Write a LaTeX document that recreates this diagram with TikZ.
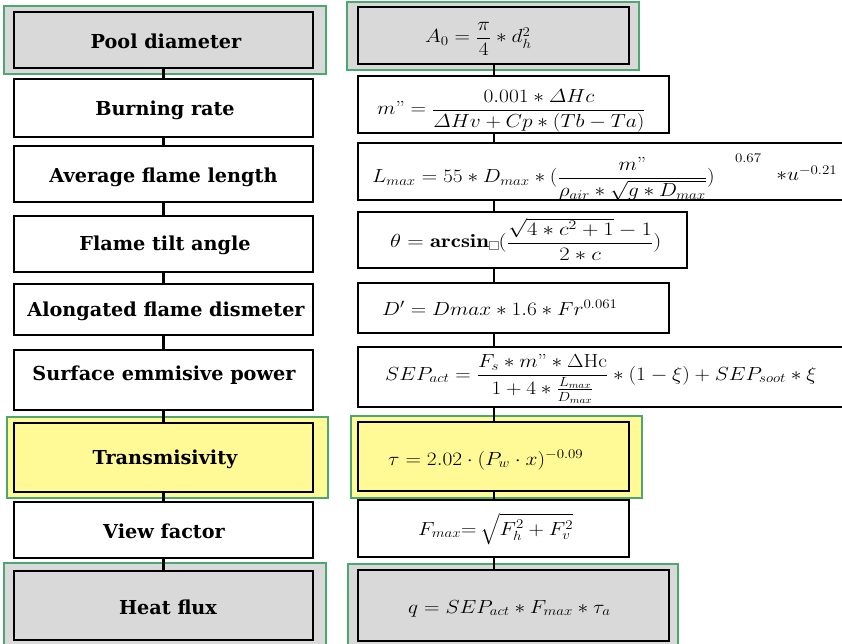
\RequirePackage{fix-cm}
\documentclass[tikz,border=0pt]{standalone}
\usepackage{amsmath}
\usepackage{graphicx}
\usepackage{fontspec}
\newfontfamily\labfont{DejaVu Serif}
\definecolor{boxgray}{RGB}{217,217,217}
\definecolor{boxyellow}{RGB}{255,250,150}
\definecolor{boxgreen}{RGB}{76,168,110}
\newcommand\dq{\mbox{\normalfont"}}
\newcommand\phbox{\mbox{\color{gray}\setlength\fboxsep{0.6bp}\setlength\fboxrule{0.5bp}\fbox{\rule{0pt}{6bp}\rule{6bp}{0pt}}}}
\newcommand\fx[1]{\scalebox{1.13}[1]{#1}}
\newcommand\fxt[1]{\scalebox{1.2}[1]{#1}}
\begin{document}
\begin{tikzpicture}[x=1bp,y=-1bp,
  box/.style={draw=black, line width=2bp, fill=white, inner sep=0pt},
  halo/.style={draw=boxgreen, line width=1.5bp},
  lab/.style={font=\labfont\bfseries\fontsize{19.3}{22}\selectfont, inner sep=0pt, anchor=base},
  frm/.style={font=\fontsize{19}{23}\selectfont, inner sep=0pt, anchor=base west},
  link/.style={line width=2.2bp}]
\useasboundingbox (0,0) rectangle (842,644);
\clip (0,0) rectangle (842,644);
% highlight frames
\path[halo, fill=boxgray] (4,6) rectangle (326,74);
\path[halo, fill=boxyellow] (7,417) rectangle (328,498);
\path[halo, fill=boxgray] (4,563) rectangle (326,660);
\path[halo, fill=boxgray] (347,2) rectangle (639,70);
\path[halo, fill=boxyellow] (351,416) rectangle (642,498);
\path[halo, fill=boxgray] (348,564) rectangle (678,660);
% left column
\node[box, fill=boxgray, minimum width=299bp, minimum height=56bp] (pool) at (163.5,40) {};
\node[box, minimum width=299bp, minimum height=58bp] (burn) at (163.5,108) {};
\node[box, minimum width=299bp, minimum height=56bp] (avg) at (163.5,174) {};
\node[box, minimum width=299bp, minimum height=56bp] (tilt) at (163.5,244) {};
\node[box, minimum width=299bp, minimum height=51bp] (along) at (163.5,309.5) {};
\node[box, minimum width=299bp, minimum height=60bp] (surf) at (163.5,380) {};
\node[box, fill=boxyellow, minimum width=299bp, minimum height=69bp] (trans) at (163.5,457.5) {};
\node[box, minimum width=299bp, minimum height=56bp] (view) at (163.5,530) {};
\node[box, fill=boxgray, minimum width=299bp, minimum height=69bp] (heat) at (163.5,605.5) {};
% right column
\node[box, fill=boxgray, minimum width=271bp, minimum height=57bp] (a0) at (493.5,35.5) {};
\node[box, minimum width=311bp, minimum height=57bp] (mb) at (513.5,104.5) {};
\node[box, minimum width=542bp, minimum height=57bp] (lmax) at (629,171.5) {};
\node[box, minimum width=329bp, minimum height=56bp] (theta) at (522.5,240) {};
\node[box, minimum width=311bp, minimum height=50bp] (dp) at (513.5,308) {};
\node[box, minimum width=542bp, minimum height=60bp] (sepf) at (629,377) {};
\node[box, fill=boxyellow, minimum width=271bp, minimum height=69bp] (tau) at (493.5,456.5) {};
\node[box, minimum width=271bp, minimum height=57bp] (fmax) at (493.5,528.5) {};
\node[box, fill=boxgray, minimum width=311bp, minimum height=71bp] (q) at (513.5,605.5) {};
% labels
\node[lab] (tpool) at (166,49) {Pool diameter};
\node[lab] (tburn) at (165,116) {Burning rate};
\node[lab] (tavg) at (163.5,182.5) {Average flame length};
\node[lab] (ttilt) at (165,250.5) {Flame tilt angle};
\node[lab] (talong) at (166,316.5) {Alongated flame dismeter};
\node[lab] (tsurf) at (164,380.5) {Surface emmisive power};
\node[lab] (ttrans) at (165,464.5) {Transmisivity};
\node[lab] (tview) at (164,538.5) {View factor};
\node[lab] (theat) at (168,614.5) {Heat flux};
% formulas
\node[frm] (fa0) at (425,43) {\fx{$A_0=\dfrac{\pi}{4}\ast d_h^2$}};
\node[frm] (fmb) at (377,115) {\fx{$m\dq=\dfrac{0.001\ast\varDelta Hc}{\varDelta Hv+Cp\ast(Tb-Ta)}$}};
\node[frm] (flmax) at (372,183) {\fx{$L_{max}=55\ast D_{max}\ast(\dfrac{m\dq}{\rho_{air}\ast\sqrt{g\ast D_{max}}})^{\hspace{18bp}\raisebox{14bp}{$\scriptstyle 0.67$}}\hspace{13bp}\raisebox{2bp}{$\ast u^{-0.21}$}$}};
\node[frm] (ftheta) at (390,248) {\fxt{$\theta=\mathbf{arcsin}\phbox(\dfrac{\sqrt{4\ast c^2+1}-1}{2\ast c})$}};
\node[frm] (fdp) at (382,315) {\fx{$D'=Dmax\ast 1.6\ast Fr^{0.061}$}};
\node[frm] (fsep) at (385,380) {\fx{$SEP_{act}=\dfrac{F_s\ast m\dq\ast\Delta\mathrm{Hc}}{1+4\ast\frac{L_{max}}{D_{max}}}\ast(1-\xi)+SEP_{soot}\ast\xi$}};
\node[frm] (ftau) at (388,465) {\fx{$\tau=2.02\cdot(P_w\cdot x)^{-0.09}$}};
\node[frm] (ffmax) at (418,535) {\fx{$F_{max}{=}\,\sqrt{F_h^2+F_v^2}$}};
\node[frm] (fq) at (408,613) {\fx{$q=SEP_{act}\ast F_{max}\ast\tau_a$}};
% connectors
\draw[link] (pool.south) -- (burn.north);
\draw[link] (burn.south) -- (avg.north);
\draw[link] (avg.south) -- (tilt.north);
\draw[link] (tilt.south) -- (along.north);
\draw[link] (along.south) -- (surf.north);
\draw[link] (surf.south) -- (trans.north);
\draw[link] (trans.south) -- (view.north);
\draw[link] (view.south) -- (heat.north);
\coordinate (rx) at (494,0);
\draw[link] (rx |- a0.south) -- (rx |- mb.north);
\draw[link] (rx |- mb.south) -- (rx |- lmax.north);
\draw[link] (rx |- lmax.south) -- (rx |- theta.north);
\draw[link] (rx |- theta.south) -- (rx |- dp.north);
\draw[link] (rx |- dp.south) -- (rx |- sepf.north);
\draw[link] (rx |- sepf.south) -- (rx |- tau.north);
\draw[link] (rx |- tau.south) -- (rx |- fmax.north);
\draw[link] (rx |- fmax.south) -- (rx |- q.north);
\end{tikzpicture}
\end{document}
